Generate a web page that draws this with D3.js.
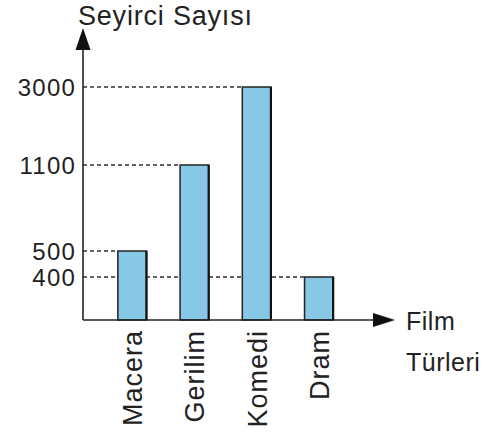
<!DOCTYPE html>
<html>
<head>
<meta charset="utf-8">
<script src="https://cdn.jsdelivr.net/npm/d3@7"></script>
<style>
  body { margin: 0; background: #fff; }
  svg text { font-family: "Liberation Sans", Arial, Helvetica, sans-serif; fill: #222; }
</style>
</head>
<body>
<div id="chart"></div>
<script>
// Data
const categories = ["Macera", "Gerilim", "Komedi", "Dram"];
const values = [500, 1100, 3000, 400];
const tickValues = [400, 500, 1100, 3000];
const yTitle = "Seyirci Sayısı";
const xTitle = ["Film", "Türleri"];

const width = 489, height = 435;
const x0 = 83, baseY = 320;

const svg = d3.select("#chart")
    .append("svg")
    .attr("width", width)
    .attr("height", height);

// the axis in the picture is not proportional, so a piecewise scale
const yScale = d3.scaleLinear()
    .domain([0, 400, 500, 1100, 3000])
    .range([baseY, 277, 251, 165, 87]);

const xScale = d3.scaleBand()
    .domain(categories)
    .range([x0, 368])
    .paddingInner(0.54)
    .paddingOuter(0.56);

// dashed guide lines from the axis to each bar
svg.append("g")
    .selectAll("line")
    .data(values)
    .join("line")
    .attr("x1", x0)
    .attr("x2", (d, i) => xScale(categories[i]))
    .attr("y1", d => yScale(d))
    .attr("y2", d => yScale(d))
    .attr("stroke", "#333")
    .attr("stroke-width", 1.3)
    .attr("stroke-dasharray", "4,3");

// bars
svg.append("g")
    .selectAll("rect")
    .data(values)
    .join("rect")
    .attr("x", (d, i) => xScale(categories[i]))
    .attr("y", d => yScale(d))
    .attr("width", xScale.bandwidth())
    .attr("height", d => baseY - yScale(d))
    .attr("fill", "#86c8e6")
    .attr("stroke", "#222")
    .attr("stroke-width", 1.5);

// darker right edge on bars
svg.append("g")
    .selectAll("line")
    .data(values)
    .join("line")
    .attr("x1", (d, i) => xScale(categories[i]) + xScale.bandwidth())
    .attr("x2", (d, i) => xScale(categories[i]) + xScale.bandwidth())
    .attr("y1", d => yScale(d))
    .attr("y2", baseY)
    .attr("stroke", "#111")
    .attr("stroke-width", 2.2);

// axes lines
svg.append("line")
    .attr("x1", x0).attr("x2", x0)
    .attr("y1", baseY).attr("y2", 45)
    .attr("stroke", "#222").attr("stroke-width", 1.6);
svg.append("line")
    .attr("x1", x0).attr("x2", 378)
    .attr("y1", baseY).attr("y2", baseY)
    .attr("stroke", "#222").attr("stroke-width", 1.6);

// arrow heads
svg.append("path")
    .attr("d", `M${x0},28 L${x0 + 7.5},50 L${x0 - 7.5},50 Z`)
    .attr("fill", "#111");
svg.append("path")
    .attr("d", `M395,${baseY} L373,${baseY - 7} L373,${baseY + 7} Z`)
    .attr("fill", "#111");

// y tick labels
svg.append("g")
    .selectAll("text")
    .data(tickValues)
    .join("text")
    .attr("x", 76)
    .attr("y", d => yScale(d))
    .attr("dy", "0.36em")
    .attr("text-anchor", "end")
    .attr("font-size", 24)
    .attr("letter-spacing", 1.2)
    .text(d => d);

// category labels, rotated
svg.append("g")
    .selectAll("text")
    .data(categories)
    .join("text")
    .attr("transform", d => `translate(${xScale(d) + xScale.bandwidth() / 2 + 10},330) rotate(-90)`)
    .attr("text-anchor", "end")
    .attr("font-size", 27)
    .attr("letter-spacing", 1)
    .text(d => d);

// titles
svg.append("text")
    .attr("x", 78)
    .attr("y", 25)
    .attr("font-size", 27)
    .attr("letter-spacing", 0.8)
    .text(yTitle);

svg.append("g")
    .selectAll("text")
    .data(xTitle)
    .join("text")
    .attr("x", 406)
    .attr("y", (d, i) => 330 + i * 41)
    .attr("font-size", 25)
    .attr("letter-spacing", 0.5)
    .text(d => d);
</script>
</body>
</html>
